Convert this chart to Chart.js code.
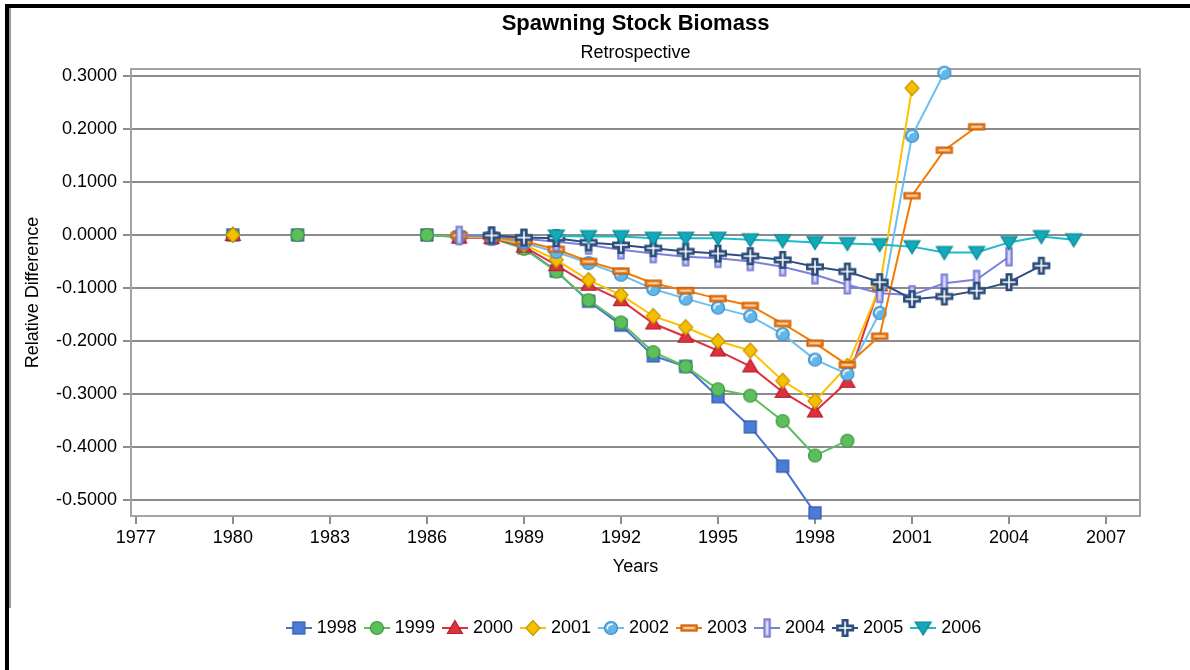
<!DOCTYPE html>
<html>
<head>
<meta charset="utf-8">
<title>Spawning Stock Biomass</title>
<script src="https://cdn.jsdelivr.net/npm/chart.js@4.4.1/dist/chart.umd.min.js"></script>
<style>
    html, body { margin: 0; padding: 0; background: #fff; }
    #wrap { position: relative; width: 1190px; height: 670px; overflow: hidden; }
    #chart { position: absolute; left: 0; top: 0; }
    .frame-black { position: absolute; left: 5px; top: 4px; width: 1190px; height: 670px;
        border-top: 4px solid #000; border-left: 4px solid #000; }
    .frame-grey { position: absolute; left: 9px; top: 8px; width: 1181px; height: 600px;
        border-left: 2px solid #9a9a9a; }
</style>
</head>
<body>
<div id="wrap">
    <canvas id="chart" width="1190" height="670"></canvas>
    <div class="frame-black"></div>
    <div class="frame-grey"></div>
</div>
<script>
const FONT = "'Liberation Sans', Arial, sans-serif";

const years = [1980, 1981, 1982, 1983, 1984, 1985, 1986, 1987, 1988, 1989,
    1990, 1991, 1992, 1993, 1994, 1995, 1996, 1997, 1998, 1999,
    2000, 2001, 2002, 2003, 2004, 2005, 2006];

const xTicks = [1977, 1980, 1983, 1986, 1989, 1992, 1995, 1998, 2001, 2004, 2007];
const yTicks = [0.3, 0.2, 0.1, 0, -0.1, -0.2, -0.3, -0.4, -0.5];

const seriesNames = ["1998", "1999", "2000", "2001", "2002", "2003", "2004", "2005", "2006"];

const s1998 = [0, null, 0, null, null, null, 0, -0.004, -0.006, -0.024,
    -0.068, -0.125, -0.170, -0.228, -0.248, -0.305, -0.362, -0.436, -0.524, null,
    null, null, null, null, null, null, null];
const s1999 = [0, null, 0, null, null, null, 0, -0.004, -0.006, -0.026,
    -0.069, -0.123, -0.165, -0.221, -0.248, -0.291, -0.303, -0.351, -0.416, -0.388,
    null, null, null, null, null, null, null];
const s2000 = [0, null, null, null, null, null, null, -0.005, -0.006, -0.022,
    -0.057, -0.094, -0.123, -0.167, -0.192, -0.218, -0.248, -0.296, -0.333, -0.277,
    -0.095, null, null, null, null, null, null];
const s2001 = [0, null, null, null, null, null, null, -0.004, -0.005, -0.018,
    -0.047, -0.085, -0.113, -0.153, -0.174, -0.200, -0.218, -0.275, -0.313, -0.247,
    -0.099, 0.277, null, null, null, null, null];
const s2002 = [null, null, null, null, null, null, null, -0.002, -0.004, -0.015,
    -0.032, -0.053, -0.075, -0.102, -0.120, -0.137, -0.153, -0.187, -0.235, -0.262,
    -0.147, 0.187, 0.306, null, null, null, null];
const s2003 = [null, null, null, null, null, null, null, -0.001, -0.003, -0.012,
    -0.027, -0.050, -0.068, -0.091, -0.105, -0.120, -0.133, -0.167, -0.204, -0.245,
    -0.191, 0.074, 0.160, 0.204, null, null, null];
const s2004 = [null, null, null, null, null, null, null, -0.001, -0.002, -0.007,
    -0.013, -0.019, -0.028, -0.035, -0.041, -0.044, -0.050, -0.060, -0.075, -0.094,
    -0.110, -0.113, -0.091, -0.084, -0.041, null, null];
const s2005 = [null, null, null, null, null, null, null, null, -0.001, -0.005,
    -0.006, -0.014, -0.019, -0.025, -0.031, -0.035, -0.040, -0.047, -0.060, -0.069,
    -0.089, -0.121, -0.116, -0.105, -0.089, -0.058, null];
const s2006 = [null, null, null, null, null, null, null, null, null, null,
    -0.002, -0.003, -0.003, -0.006, -0.006, -0.006, -0.009, -0.011, -0.014, -0.016,
    -0.018, -0.022, -0.033, -0.033, -0.014, -0.003, -0.009];

const seriesValues = [s1998, s1999, s2000, s2001, s2002, s2003, s2004, s2005, s2006];

const lineColors = ["#4a72d0", "#5cbf5c", "#e0303c", "#ffc000", "#6cc0f0",
    "#f57c00", "#7b80dc", "#2d4f80", "#18bccc"];

// marker pictures, drawn once on small canvases
function makeMarker(kind) {
    const c = document.createElement("canvas");
    c.width = 22;
    c.height = 22;
    const ctx = c.getContext("2d");
    const m = 11;
    ctx.lineWidth = 1.2;
    ctx.lineJoin = "miter";

    if (kind === "square") {
        ctx.fillStyle = "#4a7bd6";
        ctx.strokeStyle = "#3458a8";
        ctx.fillRect(m - 6, m - 6, 12, 12);
        ctx.strokeRect(m - 6, m - 6, 12, 12);
    } else if (kind === "circle") {
        ctx.beginPath();
        ctx.arc(m, m, 6.5, 0, Math.PI * 2);
        ctx.fillStyle = "#5cbf5c";
        ctx.strokeStyle = "#3c963c";
        ctx.fill();
        ctx.stroke();
    } else if (kind === "triangle") {
        ctx.beginPath();
        ctx.moveTo(m, m - 7.5);
        ctx.lineTo(m + 7.5, m + 5.5);
        ctx.lineTo(m - 7.5, m + 5.5);
        ctx.closePath();
        ctx.fillStyle = "#e0303c";
        ctx.strokeStyle = "#b02030";
        ctx.fill();
        ctx.stroke();
    } else if (kind === "diamond") {
        ctx.beginPath();
        ctx.moveTo(m, m - 7.5);
        ctx.lineTo(m + 7, m);
        ctx.lineTo(m, m + 7.5);
        ctx.lineTo(m - 7, m);
        ctx.closePath();
        ctx.fillStyle = "#f5c000";
        ctx.strokeStyle = "#c89400";
        ctx.fill();
        ctx.stroke();
    } else if (kind === "bubble") {
        ctx.beginPath();
        ctx.arc(m, m, 6.5, 0, Math.PI * 2);
        ctx.fillStyle = "#62b6ea";
        ctx.strokeStyle = "#3a8cc6";
        ctx.fill();
        ctx.stroke();
        ctx.beginPath();
        ctx.arc(m + 0.5, m + 0.5, 4.2, Math.PI * 0.95, Math.PI * 1.6);
        ctx.strokeStyle = "#ffffff";
        ctx.lineWidth = 1.6;
        ctx.stroke();
    } else if (kind === "hbar") {
        ctx.fillStyle = "#f08020";
        ctx.strokeStyle = "#c05a00";
        ctx.fillRect(m - 8, m - 3, 16, 6);
        ctx.strokeRect(m - 8, m - 3, 16, 6);
        ctx.strokeStyle = "#ffffff";
        ctx.beginPath();
        ctx.moveTo(m - 5.5, m);
        ctx.lineTo(m + 5.5, m);
        ctx.stroke();
    } else if (kind === "vbar") {
        ctx.fillStyle = "#a4a8ee";
        ctx.strokeStyle = "#6468c4";
        ctx.fillRect(m - 3, m - 9, 6, 18);
        ctx.strokeRect(m - 3, m - 9, 6, 18);
        ctx.strokeStyle = "#ffffff";
        ctx.beginPath();
        ctx.moveTo(m, m - 6.5);
        ctx.lineTo(m, m + 6.5);
        ctx.stroke();
    } else if (kind === "plus") {
        ctx.strokeStyle = "#2c4d7a";
        ctx.lineWidth = 7;
        ctx.beginPath();
        ctx.moveTo(m - 9, m);
        ctx.lineTo(m + 9, m);
        ctx.moveTo(m, m - 9);
        ctx.lineTo(m, m + 9);
        ctx.stroke();
        ctx.strokeStyle = "#ffffff";
        ctx.lineWidth = 1.6;
        ctx.beginPath();
        ctx.moveTo(m - 6.5, m);
        ctx.lineTo(m + 6.5, m);
        ctx.moveTo(m, m - 6.5);
        ctx.lineTo(m, m + 6.5);
        ctx.stroke();
    } else if (kind === "down") {
        ctx.beginPath();
        ctx.moveTo(m - 8, m - 6);
        ctx.lineTo(m + 8, m - 6);
        ctx.lineTo(m, m + 7);
        ctx.closePath();
        ctx.fillStyle = "#12a9b8";
        ctx.strokeStyle = "#0b8796";
        ctx.fill();
        ctx.stroke();
    }
    return c;
}

function makeLegendIcon(marker, color) {
    const c = document.createElement("canvas");
    c.width = 26;
    c.height = 22;
    const ctx = c.getContext("2d");
    ctx.strokeStyle = color;
    ctx.lineWidth = 2;
    ctx.beginPath();
    ctx.moveTo(0, 11);
    ctx.lineTo(26, 11);
    ctx.stroke();
    ctx.drawImage(marker, 2, 0);
    return c;
}

const markerKinds = ["square", "circle", "triangle", "diamond", "bubble", "hbar", "vbar", "plus", "down"];
const markers = markerKinds.map(makeMarker);
const legendIcons = markers.map((mk, i) => makeLegendIcon(mk, lineColors[i]));

const plotFrame = {
    id: "plotFrame",
    beforeDatasetsDraw(chart) {
        const a = chart.chartArea;
        const ctx = chart.ctx;
        ctx.save();
        ctx.strokeStyle = "#a3a3a3";
        ctx.lineWidth = 2;
        ctx.strokeRect(a.left, a.top, a.right - a.left, a.bottom - a.top);
        ctx.restore();
    }
};

const datasets = seriesNames.map((name, i) => ({
    label: name,
    data: years.map((yr, k) => ({ x: yr, y: seriesValues[i][k] })),
    borderColor: lineColors[i],
    backgroundColor: lineColors[i],
    borderWidth: 2,
    pointStyle: markers[i],
    pointRadius: 8,
    pointHoverRadius: 8,
    spanGaps: false,
    tension: 0,
    clip: false,
    order: seriesNames.length - i
}));

new Chart(document.getElementById("chart").getContext("2d"), {
    type: "line",
    data: { datasets },
    plugins: [plotFrame],
    options: {
        responsive: false,
        animation: false,
        devicePixelRatio: 1,
        layout: { padding: { left: 14, right: 50, top: 0, bottom: 23 } },
        plugins: {
            title: {
                display: true,
                fullSize: false,
                text: "Spawning Stock Biomass",
                color: "#000",
                font: { family: FONT, size: 22, weight: "bold" },
                padding: { top: 11, bottom: 4 }
            },
            subtitle: {
                display: true,
                fullSize: false,
                text: "Retrospective",
                color: "#000",
                font: { family: FONT, size: 18 },
                padding: { top: 1, bottom: 5 }
            },
            legend: {
                position: "bottom",
                fullSize: false,
                labels: {
                    color: "#000",
                    font: { family: FONT, size: 18 },
                    usePointStyle: true,
                    pointStyleWidth: 18,
                    padding: 11,
                    generateLabels: chart => chart.data.datasets.map((ds, i) => ({
                        text: ds.label,
                        datasetIndex: i,
                        pointStyle: legendIcons[i],
                        fillStyle: lineColors[i],
                        strokeStyle: lineColors[i],
                        lineWidth: 0,
                        fontColor: "#000",
                        hidden: false
                    }))
                }
            },
            tooltip: { enabled: false }
        },
        scales: {
            x: {
                type: "linear",
                min: 1976.85,
                max: 2008.05,
                afterBuildTicks: scale => { scale.ticks = xTicks.map(v => ({ value: v })); },
                afterFit: scale => { scale.height = 92; },
                border: { display: false },
                grid: { drawOnChartArea: false, drawTicks: true, tickLength: 8, color: "#8c8c8c", lineWidth: 2 },
                ticks: {
                    color: "#000",
                    font: { family: FONT, size: 18 },
                    padding: 3,
                    maxRotation: 0,
                    autoSkip: false,
                    callback: v => String(v)
                },
                title: {
                    display: true,
                    text: "Years",
                    color: "#000",
                    font: { family: FONT, size: 18 },
                    padding: { top: 0, bottom: 30 }
                }
            },
            y: {
                min: -0.53,
                max: 0.313,
                afterBuildTicks: scale => { scale.ticks = yTicks.map(v => ({ value: v })); },
                afterFit: scale => { scale.width = 117; },
                border: { display: false },
                grid: { color: "#8c8c8c", lineWidth: 2, tickLength: 8 },
                ticks: {
                    color: "#000",
                    font: { family: FONT, size: 18 },
                    padding: 6,
                    autoSkip: false,
                    callback: v => Number(v).toFixed(4)
                },
                title: {
                    display: true,
                    text: "Relative Difference",
                    color: "#000",
                    font: { family: FONT, size: 18 },
                    padding: { top: 8, bottom: 0 }
                }
            }
        }
    }
});
</script>
</body>
</html>
